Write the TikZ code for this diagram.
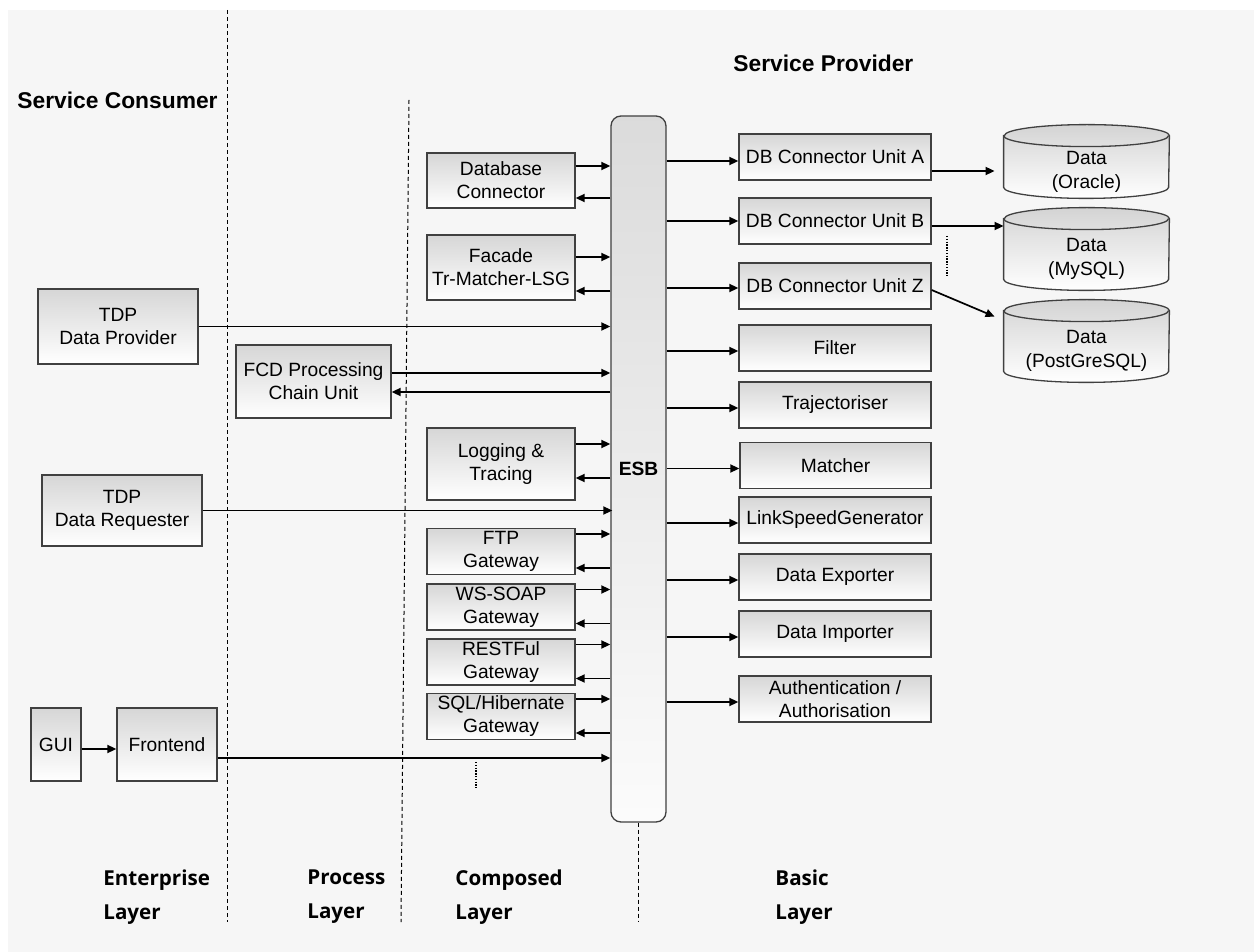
\documentclass[tikz,border=0pt]{standalone}
\usepackage{fontspec}
\setmainfont{Liberation Sans}
\newfontfamily\layerfont{Open Sans}
\usetikzlibrary{arrows.meta,backgrounds}
\definecolor{bggray}{gray}{0.965}
\definecolor{edgegray}{gray}{0.25}
\begin{document}
\begin{tikzpicture}[x=0.5pt,y=-0.5pt,
  box/.style={draw=edgegray,line width=0.65pt,top color=gray!32,bottom color=white,
    align=center,inner sep=0pt,font=\fontsize{9.6}{11.5}\selectfont},
  arr/.style={line width=0.85pt,-{Triangle[length=4.5pt,width=4pt]}},
  sep/.style={line width=0.5pt,dash pattern=on 2pt off 1.5pt},
  more/.style={line width=1.2pt,dash pattern=on 0.7pt off 0.7pt},
  db/.style={minimum width=82.5pt,inner sep=0pt,align=center,text height=23pt,
    font=\fontsize{9.6}{12}\selectfont},
  cyl/.style={draw=edgegray,line width=0.65pt,top color=gray!34,bottom color=white},
  head/.style={font=\bfseries\fontsize{11.4}{13}\selectfont,anchor=west,inner sep=0pt},
  layer/.style={font=\layerfont\bfseries\fontsize{10.3}{17}\selectfont,align=left,
    anchor=north west,inner sep=0pt}]
  \useasboundingbox (0,0) rectangle (1254,952);
  \begin{scope}[on background layer]
    \fill[bggray] (8,10) rectangle (1254,952);
  \end{scope}

  \draw[sep] (227,10) -- (227,922);
  \draw[sep] (409,100) -- (401,922);

  \node[head] (cons) at (17,100) {Service Consumer};
  \node[head] (prov) at (733,63) {Service Provider};

  \draw node[rounded corners=5pt,draw=edgegray,line width=0.65pt,top color=gray!28,
    bottom color=gray!3,minimum width=27.5pt,minimum height=353pt,inner sep=0pt,
    font=\bfseries\fontsize{9.6}{11}\selectfont] (esb) at (638.5,469) {ESB};
  \draw[sep] (esb.south) -- (638.5,922);

  % enterprise layer
  \draw node[box,minimum width=80pt,minimum height=37.5pt] (tdp) at (118,326.5) {TDP\\Data Provider};
  \draw node[box,minimum width=80pt,minimum height=35.5pt] (tdr) at (122,510.5) {TDP\\Data Requester};
  \draw node[box,minimum width=25pt,minimum height=36.5pt] (gui) at (56,744.5) {GUI};
  \draw node[box,minimum width=50pt,minimum height=36.5pt] (fe) at (167,744.5) {Frontend};
  \draw node[box,minimum width=77.5pt,minimum height=36.5pt] (fcd) at (313.5,381.5) {FCD Processing\\Chain Unit};

  % composed layer
  \draw node[box,minimum width=74pt,minimum height=27.5pt] (dbc) at (501,180.5) {Database\\Connector};
  \draw node[box,minimum width=74pt,minimum height=32.5pt] (fac) at (501,267.5) {Facade\\Tr-Matcher-LSG};
  \draw node[box,minimum width=74pt,minimum height=36pt] (log) at (501,464) {Logging \&\\Tracing};
  \draw node[box,minimum width=74pt,minimum height=23pt] (ftp) at (501,551.5) {FTP\\Gateway};
  \draw node[box,minimum width=74pt,minimum height=23pt] (soap) at (501,607) {WS-SOAP\\Gateway};
  \draw node[box,minimum width=74pt,minimum height=23pt] (rest) at (501,662) {RESTFul\\Gateway};
  \draw node[box,minimum width=74pt,minimum height=23pt] (sql) at (501,716.5) {SQL/Hibernate\\Gateway};

  % basic layer
  \draw node[box,minimum width=96pt,minimum height=23pt] (ua) at (835,157) {DB Connector Unit A};
  \draw node[box,minimum width=96pt,minimum height=23pt] (ub) at (835,221) {DB Connector Unit B};
  \draw node[box,minimum width=96pt,minimum height=23pt] (uz) at (835,286) {DB Connector Unit Z};
  \draw node[box,minimum width=96pt,minimum height=23pt] (filt) at (835,348) {Filter};
  \draw node[box,minimum width=96pt,minimum height=23pt] (traj) at (835,405) {Trajectoriser};
  \draw node[box,minimum width=95.5pt,minimum height=23pt] (match) at (835.5,465.5) {Matcher};
  \draw node[box,minimum width=96pt,minimum height=23pt] (lsg) at (835,520) {LinkSpeedGenerator};
  \draw node[box,minimum width=96pt,minimum height=23pt] (dexp) at (835,577) {Data Exporter};
  \draw node[box,minimum width=96pt,minimum height=23pt] (dimp) at (835,634) {Data Importer};
  \draw node[box,minimum width=96pt,minimum height=23pt] (auth) at (835,699) {Authentication /\\Authorisation};

  % databases: node is the body below the lid's centre line
  \node[db,minimum height=31pt] (ora) at (1086.5,167) {Data\\(Oracle)};
  \node[db,minimum height=35.5pt] (mys) at (1086.5,254.5) {Data\\(MySQL)};
  \node[db,minimum height=35.5pt] (pgs) at (1086.5,346.5) {Data\\(PostGreSQL)};
  \begin{scope}[on background layer]
    \foreach \d in {ora,mys,pgs}{
      \draw[cyl] (\d.north west) -- ([yshift=5.5pt]\d.south west)
        arc[start angle=180,end angle=360,x radius=41.25pt,y radius=5.5pt]
        -- (\d.north east)
        arc[start angle=0,end angle=180,x radius=41.25pt,y radius=5.5pt] -- cycle;
      \draw[draw=edgegray,line width=0.65pt] (\d.north west)
        arc[start angle=180,end angle=360,x radius=41.25pt,y radius=5.5pt];
    }
  \end{scope}

  % consumers to the bus
  \draw[arr] (tdp.east) -- (tdp.east -| esb.west);
  \draw[arr] (tdr.east) -- ([xshift=1pt]tdr.east -| esb.west);
  \draw[arr] ([yshift=-2.25pt]gui.east) -- ([yshift=-2.25pt]gui.east -| fe.west);
  \draw[arr] ([yshift=-6.75pt]fe.east) -- ([yshift=-6.75pt]fe.east -| esb.west);
  \draw[arr] ([yshift=4.25pt]fcd.east) -- ([yshift=4.25pt]fcd.east -| esb.west);
  \draw[arr] ([yshift=-5.25pt]fcd.east -| esb.west) -- ([yshift=-5.25pt]fcd.east);

  % composed services, in and out
  \draw[arr] ([yshift=7.25pt]dbc.east) -- ([yshift=7.25pt]dbc.east -| esb.west);
  \draw[arr] ([yshift=-8.75pt]dbc.east -| esb.west) -- ([yshift=-8.75pt]dbc.east);
  \draw[arr] ([yshift=5.25pt]fac.east) -- ([yshift=5.25pt]fac.east -| esb.west);
  \draw[arr] ([yshift=-11.75pt]fac.east -| esb.west) -- ([yshift=-11.75pt]fac.east);
  \draw[arr] ([yshift=10pt]log.east) -- ([yshift=10pt]log.east -| esb.west);
  \draw[arr] ([yshift=-7pt]log.east -| esb.west) -- ([yshift=-7pt]log.east);
  \foreach \g in {ftp,soap,rest,sql}{
    \draw[arr] ([yshift=8.75pt]\g.east) -- ([yshift=8.75pt]\g.east -| esb.west);
    \draw[arr] ([yshift=-8.25pt]\g.east -| esb.west) -- ([yshift=-8.25pt]\g.east);
  }
  \draw[more] (476,762) -- (476,788);

  % bus to basic services
  \draw[arr] ([yshift=-2pt]ua.west -| esb.east) -- ([yshift=-2pt]ua.west);
  \draw[arr] (ub.west -| esb.east) -- (ub.west);
  \draw[arr] ([yshift=-1pt]uz.west -| esb.east) -- ([yshift=-1pt]uz.west);
  \foreach \s in {filt,traj,match,lsg,dexp,dimp,auth}
    \draw[arr] ([yshift=-1.5pt]\s.west -| esb.east) -- ([yshift=-1.5pt]\s.west);

  % connector units to the databases
  \draw[arr] ([yshift=-7pt]ua.east) -- ([yshift=-7pt,xshift=-4.5pt]ua.east -| ora.west);
  \draw[arr] ([yshift=-2.5pt]ub.east) -- ([yshift=-2.5pt]ub.east -| mys.west);
  \draw[arr] ([yshift=-2pt]uz.east) -- ([xshift=-4.5pt,yshift=-3pt]pgs.north west);
  \draw[more] (947,236) -- (947,276);

  \node[layer] (ent) at (103,869) {Enterprise\\Layer};
  \node[layer] (proc) at (307,869) {Process\\Layer};
  \node[layer] (comp) at (455,869) {Composed\\Layer};
  \node[layer] (basic) at (775,869) {Basic\\Layer};
\end{tikzpicture}
\end{document}
